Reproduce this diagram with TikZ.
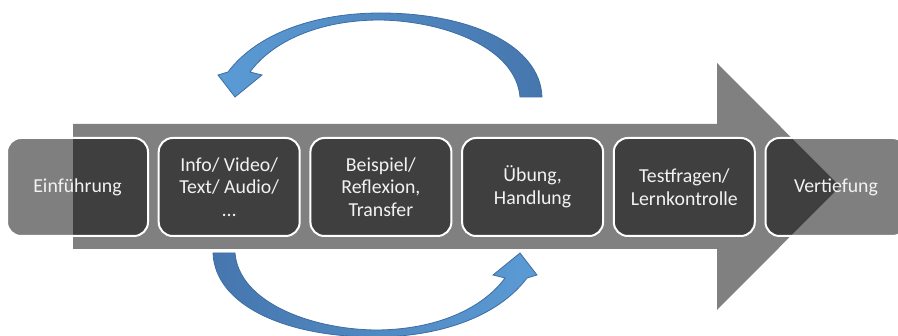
\documentclass[tikz,border=0pt]{standalone}
\usepackage{fontspec}
\setmainfont{Carlito}
\definecolor{bandgrey}{HTML}{808080}
\definecolor{bluelight}{HTML}{5B9BD5}
\definecolor{bluedark}{HTML}{4676AE}
\definecolor{blueline}{HTML}{3E6DA3}
\tikzset{
  stepbox/.style={rectangle, rounded corners=14pt, draw=white, line width=2pt,
    fill=black, fill opacity=0.5, text opacity=1, text=white!95!black,
    minimum width=141pt, minimum height=98pt, inner sep=2pt, align=center,
    font=\fontsize{19.8}{22.5}\selectfont},
  loopshape/.style={draw=blueline, line width=0.8pt}
}
\begin{document}
\begin{tikzpicture}[x=1pt,y=-1pt]
\useasboundingbox (0,0) rectangle (898,336);
% big grey arrow
\fill[bandgrey] (73,124) -- (717,124) -- (717,63) -- (840,186.5) -- (717,310) -- (717,249) -- (73,249) -- cycle;
% boxes
\node[stepbox] (s1) at (77.5,187) {Einführung};
\node[stepbox] (s2) at (229.2,187) {Info/ Video/\\Text/ Audio/\\…};
\node[stepbox] (s3) at (380.9,187) {Beispiel/\\Reflexion,\\Transfer};
\node[stepbox] (s4) at (532.6,187) {Übung,\\Handlung};
\node[stepbox] (s5) at (684.3,187) {Testfragen/\\Lernkontrolle};
\node[stepbox] (s6) at (836,187) {Vertiefung};
% top curved arrow
\path[loopshape, left color=bluelight, right color=bluedark]
  (542,97) -- (520,97)
  .. controls (516,48) and (445,21) .. (380,20)
  .. controls (318,20) and (272,42) .. (250,72)
  -- (262,75) -- (235,97) -- (218,75) -- (228,72)
  .. controls (258,32) and (318,13) .. (380,13)
  .. controls (470,13) and (540,45) .. (542,97) -- cycle;
% bottom curved arrow (point reflection of the top one)
\begin{scope}[rotate around={180:(377.5,175)}]
\path[loopshape, left color=bluedark, right color=bluelight]
  (542,97) -- (520,97)
  .. controls (516,48) and (445,21) .. (380,20)
  .. controls (318,20) and (272,42) .. (250,72)
  -- (262,75) -- (235,97) -- (218,75) -- (228,72)
  .. controls (258,32) and (318,13) .. (380,13)
  .. controls (470,13) and (540,45) .. (542,97) -- cycle;
\end{scope}
\end{tikzpicture}
\end{document}
